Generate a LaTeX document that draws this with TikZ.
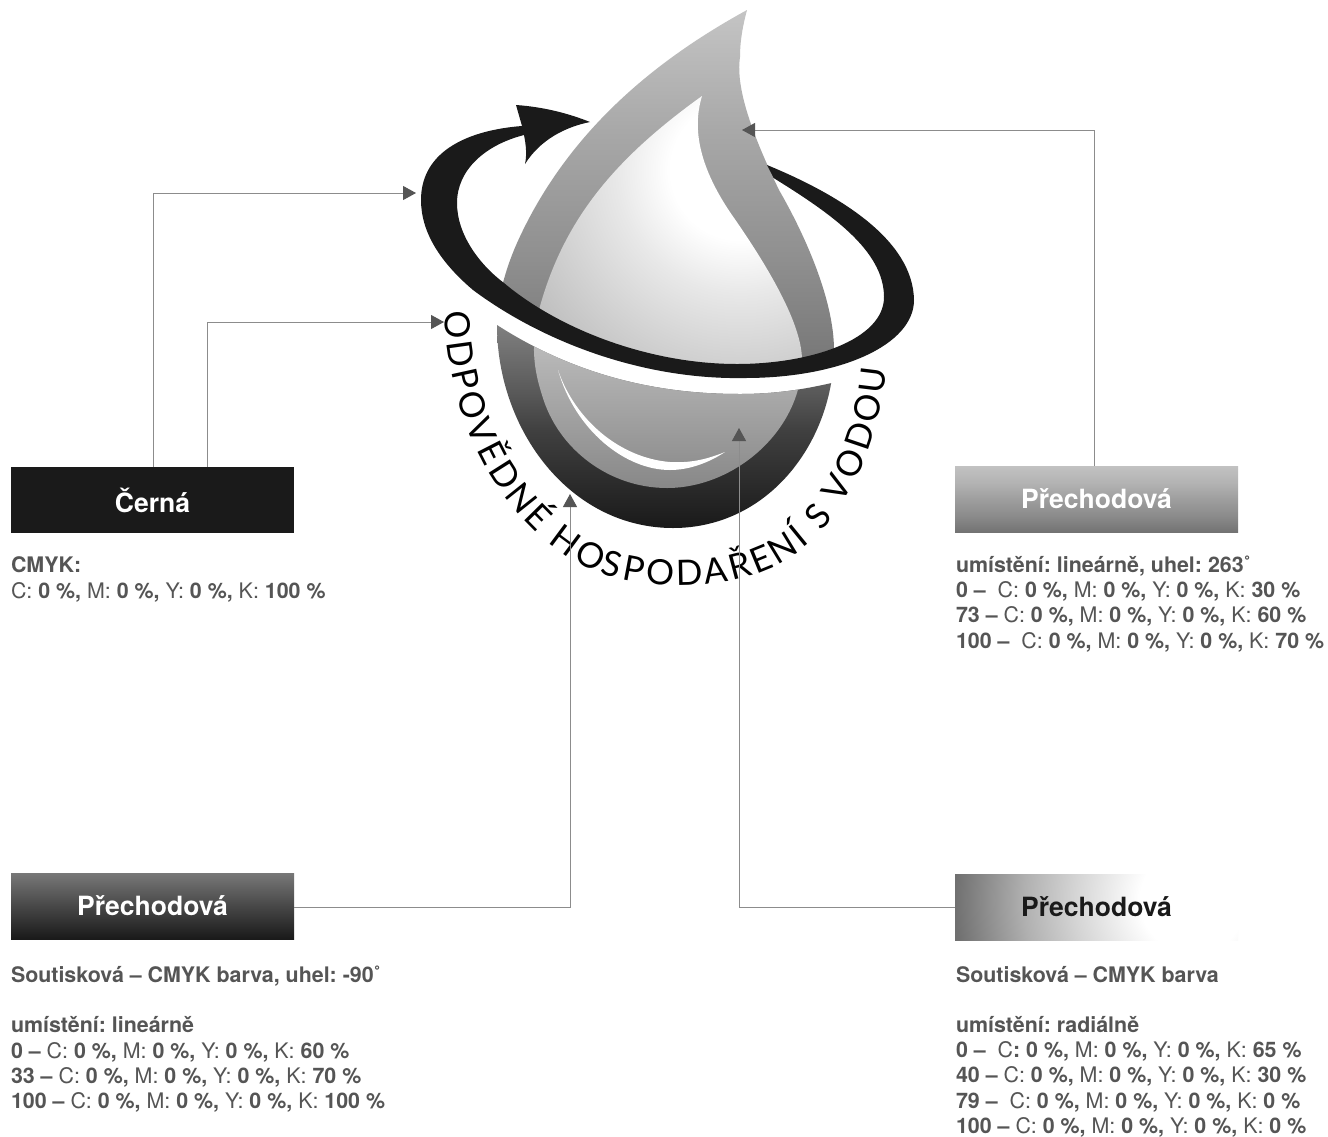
\documentclass[tikz,border=0pt]{standalone}
\usepackage{fontspec}
\setmainfont{TeX Gyre Heros}
\newfontfamily\logofont{Lato}
\usetikzlibrary{arrows.meta,decorations.text,calc}
\definecolor{inkblack}{HTML}{1A1A1A}
\definecolor{bodytxt}{HTML}{555555}
\definecolor{connline}{HTML}{8C8C8C}
\definecolor{arrowdark}{HTML}{555555}
\pgfdeclareverticalshading{boxTR}{100bp}{color(0bp)=(black!55); color(25bp)=(black!55); color(38bp)=(black!45); color(50bp)=(black!38); color(62bp)=(black!30); color(75bp)=(black!24); color(100bp)=(black!24)}
\pgfdeclareverticalshading{boxBL}{100bp}{color(0bp)=(black!90); color(25bp)=(black!90); color(50bp)=(black!72); color(75bp)=(black!53); color(100bp)=(black!53)}
\pgfdeclareradialshading{boxBR}{\pgfpoint{0bp}{0bp}}{color(0bp)=(white); color(5.1bp)=(white); color(11.5bp)=(black!17); color(16.3bp)=(black!31); color(22.9bp)=(black!56); color(25bp)=(black!60); color(50bp)=(black!60)}
\pgfdeclareverticalshading{dropUp}{100bp}{color(0bp)=(black!53); color(25bp)=(black!53); color(39.3bp)=(black!44); color(57.9bp)=(black!34); color(75bp)=(black!23); color(100bp)=(black!23)}
\pgfdeclareverticalshading{dropLow}{100bp}{color(0bp)=(black!90); color(25bp)=(black!90); color(49bp)=(black!75); color(58.5bp)=(black!65); color(75bp)=(black!50); color(100bp)=(black!50)}
\pgfdeclareverticalshading{innerLow}{100bp}{color(0bp)=(black!47); color(25bp)=(black!47); color(75bp)=(black!27); color(100bp)=(black!27)}
\pgfdeclareradialshading{innerUp}{\pgfpoint{0bp}{0bp}}{color(0bp)=(white); color(5.8bp)=(white); color(10.3bp)=(black!9); color(20.3bp)=(black!25); color(25bp)=(black!32); color(50bp)=(black!32)}
\tikzset{
 box/.style={minimum width=283pt,minimum height=66pt,inner sep=0pt,outer sep=0pt,font=\fontsize{26.5}{30}\selectfont\bfseries},
 desc/.style={anchor=north west,inner sep=0pt,outer sep=0pt,align=left,text=bodytxt,font=\fontsize{21.4}{25.2}\selectfont\frenchspacing},
 conn/.style={draw=connline,line width=1pt,-{Triangle[length=13pt,width=14pt,color=arrowdark]}},
}
\newcommand{\outerdrop}{(747,10) .. controls (665,55) and (570,125) .. (517,243) .. controls (505,270) and (497,300) .. (497,325) .. controls (497,430) and (570,528) .. (673,528) .. controls (770,528) and (834,440) .. (834,350) .. controls (834,300) and (805,235) .. (779,190) .. controls (755,140) and (735,90) .. (740,57) .. controls (740,40) and (743,25) .. (747,10) -- cycle}
\newcommand{\innerdrop}{(702,96) .. controls (620,155) and (565,215) .. (539.5,308) .. controls (530,345) and (534,370) .. (542,395) .. controls (558,450) and (610,488) .. (667,488) .. controls (735,488) and (802,430) .. (802,360) .. controls (802,320) and (760,255) .. (730.6,213) .. controls (705,175) and (690,135) .. (702,96) -- cycle}
\newcommand{\lowerregion}{(480,314) -- (497,325) .. controls (590,385) and (680,394) .. (740,394) .. controls (780,394) and (810,388) .. (836,382) -- (860,378) -- (860,540) -- (480,540) -- cycle}
\begin{document}
\begin{tikzpicture}[x=1pt,y=-1pt]
\useasboundingbox (0,0) rectangle (1328,1136);
\fill[white] (0,0) rectangle (1328,1136);
% drop, upper
\begin{scope}
 \clip \outerdrop;
 \shade[shading=dropUp] (480,10) rectangle (860,360);
\end{scope}
\begin{scope}
 \clip \innerdrop;
 \shade[shading=innerUp] (740,170) circle (300);
\end{scope}
% white gap below the ring
\fill[white] (473,280) .. controls (560,345) and (650,370) .. (737,370) .. controls (800,370) and (850,355) .. (870,335) -- (870,400) -- (470,400) -- cycle;
% drop, lower
\begin{scope}
 \clip \lowerregion;
 \begin{scope}
  \clip \outerdrop;
  \shade[shading=dropLow] (480,325) rectangle (860,528);
 \end{scope}
 \begin{scope}
  \clip \innerdrop;
  \shade[shading=innerLow] (480,345) rectangle (860,490);
 \end{scope}
 \fill[white] (558,370) .. controls (575,430) and (625,470) .. (670,470) .. controls (690,470) and (710,462) .. (725,452) .. controls (705,460) and (690,463) .. (670,462) .. controls (620,458) and (575,420) .. (558,370) -- cycle;
\end{scope}
% ring with arrow
\fill[inkblack] (767,165) .. controls (840,195) and (913,240) .. (914,300) .. controls (914,345) and (840,378) .. (745,378) .. controls (640,380) and (540,340) .. (473,290) .. controls (440,262) and (421,232) .. (421,200) .. controls (421,150) and (470,130) .. (522,126)
 -- (516,105) .. controls (545,107) and (570,114) .. (590,122) .. controls (565,127) and (540,140) .. (525,164) .. controls (527,155) and (526,145) .. (524,135)
 .. controls (485,145) and (457,170) .. (457,203) .. controls (457,235) and (480,265) .. (504,283) .. controls (560,330) and (650,364) .. (737,364) .. controls (810,364) and (884,340) .. (884,297) .. controls (884,250) and (830,213) .. (773.6,178) -- cycle;
% circular text
\path[decorate,decoration={text along path,text align={left},text={|\fontsize{35}{35}\selectfont\logofont\kern3.1pt|ODPOVĚDNÉ HOSPODAŘENÍ S VODOU}}]
 (445,308) .. controls (445,400) and (485,515) .. (590,570) .. controls (660,595) and (780,600) .. (838,510) .. controls (865,470) and (882,420) .. (886,373);
% boxes
\node[box,fill=inkblack,text=white,anchor=north west] (black) at (11,467) {Černá};
\shade[shading=boxTR] (955,466) rectangle (1238,532);
\node[box,text=white,anchor=north west] (trbox) at (955,466) {Přechodová};
\shade[shading=boxBL] (11,873) rectangle (294,939);
\node[box,text=white,anchor=north west] (blbox) at (11,873) {Přechodová};
\begin{scope}
 \clip (955,874) rectangle (1238,940);
 \shade[shading=boxBR] (1193,900) circle (260);
\end{scope}
\node[box,text=inkblack,anchor=north west] (brbox) at (955,874) {Přechodová};
% text blocks
\node[desc] (d1) at (11,557) {\textbf{CMYK:}\\C: \textbf{0 \%,} M: \textbf{0 \%,} Y: \textbf{0 \%,} K: \textbf{100 \%}};
\node[desc] (d2) at (956,556) {\textbf{umístění: lineárně, uhel: 263˚}\\\textbf{0 –}\ \ C: \textbf{0 \%,} M: \textbf{0 \%,} Y: \textbf{0 \%,} K: \textbf{30 \%}\\\textbf{73 –} C: \textbf{0 \%,} M: \textbf{0 \%,} Y: \textbf{0 \%,} K: \textbf{60 \%}\\\textbf{100 –}\ \ C: \textbf{0 \%,} M: \textbf{0 \%,} Y: \textbf{0 \%,} K: \textbf{70 \%}};
\node[desc] (d3) at (11,966) {\textbf{Soutisková – CMYK barva, uhel: -90˚}\\[25.2pt]\textbf{umístění: lineárně}\\\textbf{0 –} C: \textbf{0 \%,} M: \textbf{0 \%,} Y: \textbf{0 \%,} K: \textbf{60 \%}\\\textbf{33 –} C: \textbf{0 \%,} M: \textbf{0 \%,} Y: \textbf{0 \%,} K: \textbf{70 \%}\\\textbf{100 –} C: \textbf{0 \%,} M: \textbf{0 \%,} Y: \textbf{0 \%,} K: \textbf{100 \%}};
\node[desc] (d4) at (956,966) {\textbf{Soutisková – CMYK barva}\\[25.2pt]\textbf{umístění: radiálně}\\\textbf{0 –}\ \ C\textbf{: 0 \%,} M: \textbf{0 \%,} Y: \textbf{0 \%,} K: \textbf{65 \%}\\\textbf{40 –} C: \textbf{0 \%,} M: \textbf{0 \%,} Y: \textbf{0 \%,} K: \textbf{30 \%}\\\textbf{79 –}\ \ C: \textbf{0 \%,} M: \textbf{0 \%,} Y: \textbf{0 \%,} K: \textbf{0 \%}\\\textbf{100 –} C: \textbf{0 \%,} M: \textbf{0 \%,} Y: \textbf{0 \%,} K: \textbf{0 \%}};
% connector ends
\coordinate (t1) at (416,193);
\coordinate (t2) at (444,322);
\coordinate (t3) at (742,130);
\coordinate (t4) at (570,494);
\coordinate (t5) at (739,428);
\draw[conn] (153,0 |- black.north) |- (t1);
\draw[conn] (207,0 |- black.north) |- (t2);
\draw[conn] (1094,0 |- trbox.north) |- (t3);
\draw[conn] (blbox.east |- 0,907) -| (t4);
\draw[conn] (brbox.west |- 0,907) -| (t5);
\end{tikzpicture}
\end{document}
